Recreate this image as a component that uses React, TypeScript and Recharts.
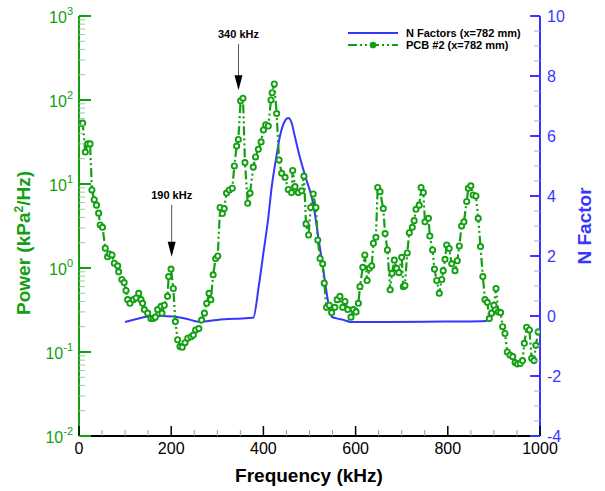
import React from "react";
import {
  LineChart,
  Line,
  XAxis,
  YAxis,
  Legend,
  ReferenceDot,
} from "recharts";

// ---------- data ----------
const psdName = "PCB #2 (x=782 mm)";
const nFactorName = "N Factors (x=782 mm)";

const psdFreq = [
  4, 8, 13.7, 18.8, 24, 28, 33, 38, 42.6, 46, 51, 57, 62, 66, 71.6, 76.6, 84, 86, 93, 98,
  102, 105.6, 110.6, 118, 124, 129.5, 134.5, 138, 141.7, 149, 156, 161, 165.5, 170.6, 178, 180, 185, 192, 194.5, 199.6,
  204.6, 209, 214, 219, 224, 230, 236, 243, 248, 253, 260, 266, 272, 277, 282, 286, 291, 296.5, 301, 306,
  311, 315, 320, 326, 332.5, 337, 342, 345.6, 350.6, 355.7, 360, 366, 371, 378, 383, 389, 395, 400, 405, 410.6,
  416.5, 419, 423.6, 428.8, 434, 439.7, 447, 454, 461, 463.5, 468.5, 475.7, 483, 488, 492.4, 498, 502.6, 508, 514, 518,
  523, 528.6, 532, 537, 543, 548, 555, 560, 566, 572, 577, 583, 590, 595, 601, 606, 609.5, 615.6, 620, 625,
  630, 635, 638.6, 644, 648, 653, 660, 664, 669, 675, 679, 684, 689, 694, 700, 703.5, 707, 712, 716.5, 723,
  727, 731, 738, 742, 747, 750.5, 758, 761, 767, 771, 776, 781.5, 787, 790, 794, 797.6, 803, 808.5, 815.6, 820.6,
  825, 830, 835, 841, 844.5, 850, 855, 861, 866, 871, 876, 880.7, 885.7, 890, 895, 900, 904.6, 909.6, 914.6, 919,
  924, 929, 935, 941, 946, 951, 957, 962, 966, 971, 977, 982, 987, 991, 996,
];
const psdPower = [
  52.7, 53, 24, 30, 30, 8.5, 6.5, 5.6, 4.5, 3.25, 3.05, 1.72, 1.36, 1.47, 1.43, 1.14, 1.06, 0.9, 0.73, 0.67,
  0.54, 0.42, 0.38, 0.42, 0.44, 0.5, 0.42, 0.38, 0.32, 0.29, 0.25, 0.25, 0.26, 0.32, 0.35, 0.29, 0.36, 0.46, 0.79, 0.97,
  0.57, 0.23, 0.14, 0.116, 0.114, 0.129, 0.146, 0.152, 0.159, 0.183, 0.19, 0.24, 0.29, 0.38, 0.5, 0.42, 0.83, 1.3, 1.39, 5.25,
  4.45, 5.1, 7.8, 8.5, 8.9, 16.4, 28.3, 33.9, 98, 105, 18, 5.9, 7.8, 15.9, 21, 25.9, 31.7, 44, 50.5, 49,
  100, 122, 155, 69, 19.3, 13.4, 12, 8.6, 7.9, 14.5, 9.3, 7.9, 8.3, 12.4, 3.35, 2.47, 5.25, 7.6, 5.25, 2.15,
  1.3, 1.12, 0.66, 0.34, 0.36, 0.295, 0.34, 0.42, 0.46, 0.34, 0.4, 0.32, 0.26, 0.32, 0.3, 0.38, 0.6, 1.02, 1.43, 0.71,
  0.99, 1.06, 1.97, 2.32, 9.1, 8.1, 5.1, 2.57, 1.64, 0.55, 0.865, 1.24, 0.99, 0.88, 1.34, 0.6, 0.62, 1.51, 2.63, 3.05,
  3.66, 5.0, 5.6, 9.1, 7.9, 3.55, 3.9, 2.4, 1.64, 0.97, 0.71, 0.5, 0.73, 0.93, 1.27, 1.88, 1.71, 1.12, 0.93, 1.22,
  1.83, 3.16, 3.55, 6.2, 8.9, 9.5, 7.4, 7.2, 3.9, 1.8, 0.79, 0.42, 0.39, 0.25, 0.29, 0.36, 0.57, 0.3, 0.295, 0.2,
  0.166, 0.1, 0.092, 0.088, 0.075, 0.072, 0.073, 0.079, 0.127, 0.197, 0.183, 0.084, 0.079, 0.12, 0.174,
];

const nFreq = [
  100, 125, 150, 180, 205, 230, 260, 300, 340, 378, 390, 400, 410, 418, 428, 436, 445, 454, 461, 468,
  479, 492, 508, 519, 530, 541, 548, 559, 573, 590, 650, 750, 850, 885,
];
const nFactor = [
  -0.2, -0.1, -0.02, 0.0, -0.02, -0.08, -0.19, -0.13, -0.09, -0.06, 1.0, 2.1, 3.2, 4.3, 5.3, 6.0, 6.45, 6.6, 6.45, 6.0,
  5.3, 4.6, 3.75, 2.64, 1.53, 0.42, -0.02, -0.08, -0.13, -0.2, -0.2, -0.19, -0.18, -0.17,
];

const annotations = [
  { freq: 201, power: 1.36, label: "190 kHz", length: 52 },
  { freq: 346, power: 131, label: "340 kHz", length: 46 },
];

const xMajorTicks = [0, 200, 400, 600, 800, 1000];
const xMinorStep = 50;
const leftMajorTicks = [0.01, 0.1, 1, 10, 100, 1000];
const rightMajorTicks = [-4, -2, 0, 2, 4, 6, 8, 10];
const rightMinorStep = 0.5;

const psdData = psdFreq.map((f, i) => ({ freq: f, power: psdPower[i] }));
const nData = nFreq.map((f, i) => ({ freq: f, n: nFactor[i] }));

const xTicks: number[] = [];
for (let v = 0; v <= 1000; v += xMinorStep) xTicks.push(v);
const leftTicks: number[] = [];
leftMajorTicks.forEach((m, i) => {
  leftTicks.push(m);
  if (i < leftMajorTicks.length - 1) for (let k = 2; k <= 9; k++) leftTicks.push(+(m * k).toPrecision(3));
});
const rightTicks: number[] = [];
for (let v = -4; v <= 10; v += rightMinorStep) rightTicks.push(v);

// ---------- style ----------
const FONT = "'Liberation Sans', Arial, Helvetica, sans-serif";
const GREEN = "#12a012";
const LIGHT_GREEN = "#8fd08f";
const BLUE = "#3636ff";
const LIGHT_BLUE = "#a9a9ff";
const TM = 4; // tick margin
const GREEN_DASH = "9 3 2 3 2 3";

const XTick = (props: any) => {
  const { x, y, payload } = props;
  const v = payload.value;
  const major = xMajorTicks.includes(v);
  const ay = y - TM;
  return (
    <g>
      <line x1={x} x2={x} y1={ay} y2={ay - (major ? 10 : 6)} stroke={major ? "#000" : "#9a9a9a"} strokeWidth={major ? 1.5 : 1} />
      {major && (
        <text x={x} y={ay + 18} textAnchor="middle" fontSize={16} fill="#000" fontFamily={FONT}>
          {v}
        </text>
      )}
    </g>
  );
};

const LeftTick = (props: any) => {
  const { x, y, payload } = props;
  const v = payload.value;
  const lg = Math.log10(v);
  const exp = Math.round(lg);
  const major = Math.abs(lg - exp) < 1e-6;
  const ax = x + TM;
  return (
    <g>
      <line x1={ax} x2={ax + (major ? 12 : 6)} y1={y} y2={y} stroke={major ? GREEN : LIGHT_GREEN} strokeWidth={major ? 2 : 1} />
      {major && (
        <text x={ax - 6} y={y + 7} textAnchor="end" fontSize={16} fill={GREEN} fontFamily={FONT}>
          10
          <tspan dy={-8} fontSize={11}>
            {exp}
          </tspan>
        </text>
      )}
    </g>
  );
};

const RightTick = (props: any) => {
  const { x, y, payload } = props;
  const v = payload.value;
  const major = rightMajorTicks.includes(v);
  const ax = x - TM;
  return (
    <g>
      <line x1={ax} x2={ax - (major ? 10 : 6)} y1={y} y2={y} stroke={major ? BLUE : LIGHT_BLUE} strokeWidth={major ? 2 : 1} />
      {major && (
        <text x={ax + 7} y={y + 6} textAnchor="start" fontSize={16} fill={BLUE} fontFamily={FONT}>
          {v}
        </text>
      )}
    </g>
  );
};

const LegendContent = () => (
  <svg width={180} height={32} style={{ overflow: "visible" }}>
    <line x1={0} x2={50} y1={8} y2={8} stroke={BLUE} strokeWidth={2} />
    <text x={58} y={12} fontSize={11} fontWeight="bold" fontFamily={FONT} fill="#000">
      {nFactorName}
    </text>
    <line x1={0} x2={50} y1={20} y2={20} stroke={GREEN} strokeWidth={2} strokeDasharray={GREEN_DASH} />
    <circle cx={25} cy={20} r={2.6} fill={GREEN} stroke={GREEN} strokeWidth={1.5} />
    <text x={58} y={24} fontSize={11} fontWeight="bold" fontFamily={FONT} fill="#000">
      {psdName}
    </text>
  </svg>
);

const Arrow = (label: string, length: number) => (props: any) => {
  const { cx, cy } = props;
  if (cx == null || cy == null) return <g />;
  return (
    <g>
      <line x1={cx} x2={cx} y1={cy - length} y2={cy - 12} stroke="#555" strokeWidth={1} />
      <polygon points={`${cx - 4},${cy - 15} ${cx + 4},${cy - 15} ${cx},${cy}`} fill="#000" />
      <text x={cx} y={cy - length - 6} textAnchor="middle" fontSize={11} fontWeight="bold" fontFamily={FONT} fill="#000">
        {label}
      </text>
    </g>
  );
};

export default function App() {
  return (
    <div style={{ position: "absolute", left: 0, top: 0, background: "#fff" }}>
      <LineChart width={605} height={491} margin={{ top: 16, right: 0, bottom: 0, left: 0 }}>
        <XAxis
          type="number"
          dataKey="freq"
          domain={[0, 1000]}
          ticks={xTicks}
          interval={0}
          height={55}
          tickSize={0}
          tickMargin={TM}
          tick={<XTick />}
          axisLine={{ stroke: "#000", strokeWidth: 2 }}
          tickLine={false}
          allowDataOverflow
          label={() => (
            <text x={309} y={482} textAnchor="middle" fontSize={19} fontWeight="bold" fontFamily={FONT} fill="#000">
              Frequency (kHz)
            </text>
          )}
        />
        <YAxis
          yAxisId="left"
          orientation="left"
          scale="log"
          domain={[0.01, 1000]}
          allowDataOverflow
          ticks={leftTicks}
          interval={0}
          width={79}
          tickSize={0}
          tickMargin={TM}
          tick={<LeftTick />}
          tickLine={false}
          axisLine={{ stroke: GREEN, strokeWidth: 2 }}
          label={() => (
            <text
              transform="translate(30,243) rotate(-90)"
              textAnchor="middle"
              fontSize={19}
              fontWeight="bold"
              fontFamily={FONT}
              fill={GREEN}
            >
              Power (kPa<tspan dy={-7} fontSize={12}>2</tspan>
              <tspan dy={7}>/Hz)</tspan>
            </text>
          )}
        />
        <YAxis
          yAxisId="right"
          orientation="right"
          domain={[-4, 10]}
          allowDataOverflow
          ticks={rightTicks}
          interval={0}
          width={65}
          tickSize={0}
          tickMargin={TM}
          tick={<RightTick />}
          tickLine={false}
          axisLine={{ stroke: BLUE, strokeWidth: 2 }}
          label={() => (
            <text
              transform="translate(591,226) rotate(-90)"
              textAnchor="middle"
              fontSize={19}
              fontWeight="bold"
              fontFamily={FONT}
              fill={BLUE}
            >
              N Factor
            </text>
          )}
        />
        <Legend
          layout="vertical"
          align="center"
          verticalAlign="middle"
          content={<LegendContent />}
          wrapperStyle={{ left: 348, top: 25, width: 180, height: 32 }}
        />
        <Line
          yAxisId="right"
          data={nData}
          dataKey="n"
          name={nFactorName}
          type="monotone"
          stroke={BLUE}
          strokeWidth={2}
          dot={false}
          isAnimationActive={false}
        />
        <Line
          yAxisId="left"
          data={psdData}
          dataKey="power"
          name={psdName}
          type="linear"
          stroke={GREEN}
          strokeWidth={2.2}
          strokeDasharray={GREEN_DASH}
          dot={{ r: 2.6, fill: "#fff", stroke: GREEN, strokeWidth: 1.9, strokeDasharray: "0" }}
          isAnimationActive={false}
        />
        {annotations.map((a) => (
          <ReferenceDot
            key={a.label}
            yAxisId="left"
            x={a.freq}
            y={a.power}
            ifOverflow="visible"
            shape={Arrow(a.label, a.length)}
          />
        ))}
      </LineChart>
    </div>
  );
}
